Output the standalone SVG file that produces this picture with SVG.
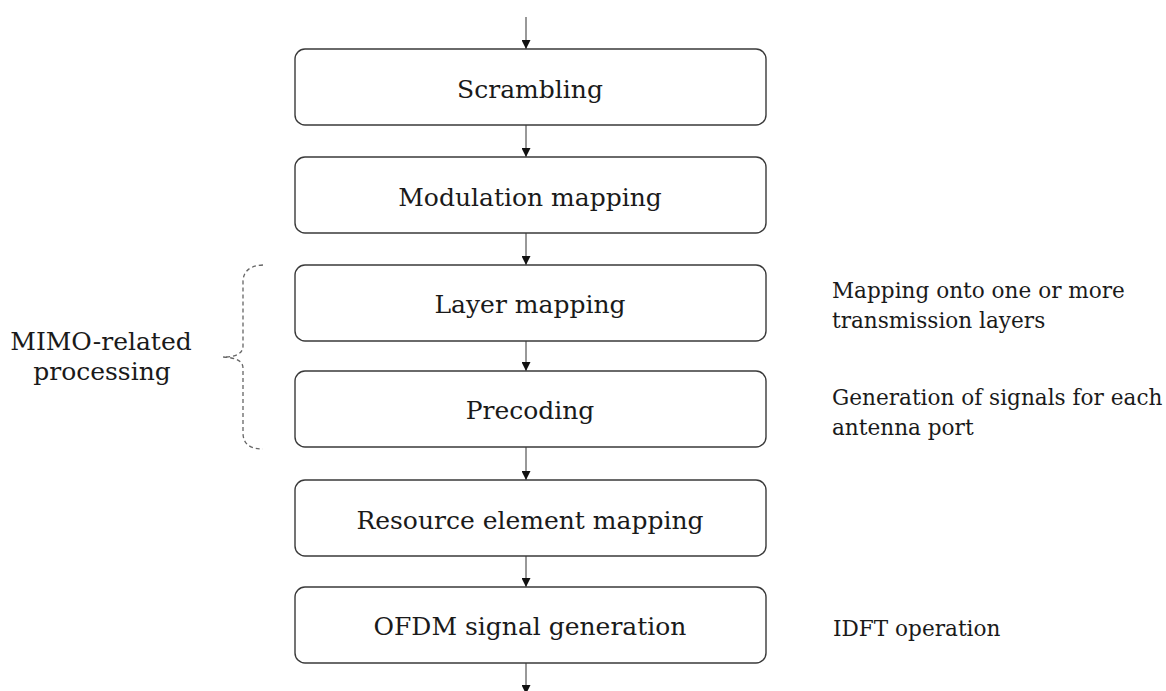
<svg xmlns="http://www.w3.org/2000/svg" width="1166" height="691" viewBox="0 0 1166 691">
<style>
.box{fill:#fff;stroke:#3a3a3a;stroke-width:1.4}
.lbl{font-family:"DejaVu Serif","Liberation Serif",serif;font-size:25px;fill:#1a1a1a;text-anchor:middle}
.note{font-family:"DejaVu Serif","Liberation Serif",serif;font-size:21.6px;fill:#1a1a1a}
.conn{stroke:#333;stroke-width:1;fill:none}
.brace{stroke:#666;stroke-width:1.3;fill:none;stroke-dasharray:4 3}
</style>
<defs>
<marker id="arr" viewBox="0 0 10 10" refX="10" refY="5" markerWidth="9" markerHeight="9" markerUnits="userSpaceOnUse" orient="auto">
<path d="M0,0 L10,5 L0,10 Z" fill="#111"/>
</marker>
</defs>
<g id="connectors">
<line class="conn" x1="526" y1="17" x2="526" y2="49" marker-end="url(#arr)"/>
<line class="conn" x1="526" y1="125" x2="526" y2="157" marker-end="url(#arr)"/>
<line class="conn" x1="526" y1="233" x2="526" y2="265" marker-end="url(#arr)"/>
<line class="conn" x1="526" y1="341" x2="526" y2="371" marker-end="url(#arr)"/>
<line class="conn" x1="526" y1="447" x2="526" y2="480" marker-end="url(#arr)"/>
<line class="conn" x1="526" y1="556" x2="526" y2="587" marker-end="url(#arr)"/>
<line class="conn" x1="526" y1="663" x2="526" y2="694" marker-end="url(#arr)"/>
</g>
<g id="scrambling"><rect class="box" x="295" y="49" width="471" height="76" rx="10"/><text class="lbl" x="530" y="98">Scrambling</text></g>
<g id="modulation"><rect class="box" x="295" y="157" width="471" height="76" rx="10"/><text class="lbl" x="530" y="206">Modulation mapping</text></g>
<g id="layer"><rect class="box" x="295" y="265" width="471" height="76" rx="10"/><text class="lbl" x="530" y="313">Layer mapping</text></g>
<g id="precoding"><rect class="box" x="295" y="371" width="471" height="76" rx="10"/><text class="lbl" x="530" y="419">Precoding</text></g>
<g id="resource"><rect class="box" x="295" y="480" width="471" height="76" rx="10"/><text class="lbl" x="530" y="529">Resource element mapping</text></g>
<g id="ofdm"><rect class="box" x="295" y="587" width="471" height="76" rx="10"/><text class="lbl" x="530" y="635">OFDM signal generation</text></g>
<g id="mimo">
<path class="brace" d="M263,265 Q243,266 243,282 L243,346 Q243,357 223,357 Q243,358 243,368 L243,433 Q243,449 263,449"/>
<text class="lbl" x="101" y="350">MIMO-related</text>
<text class="lbl" x="102" y="380">processing</text>
</g>
<g id="note-layer"><text class="note" x="832" y="298">Mapping onto one or more</text><text class="note" x="832" y="328">transmission layers</text></g>
<g id="note-precoding"><text class="note" x="832" y="405">Generation of signals for each</text><text class="note" x="832" y="435">antenna port</text></g>
<g id="note-ofdm"><text class="note" x="833" y="636">IDFT operation</text></g>
</svg>
